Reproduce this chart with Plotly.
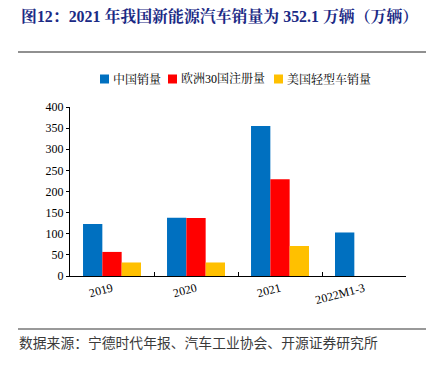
import plotly.graph_objects as go

categories = ["2019", "2020", "2021", "2022M1-3"]
china_sales = [123, 138, 355, 103]
europe_reg = [57, 137, 229, None]
us_light = [32, 32, 71, None]
series_names = ["中国销量", "欧洲30国注册量", "美国轻型车销量"]
series_colors = ["#0070C0", "#FF0000", "#FFC000"]
y_ticks = [0, 50, 100, 150, 200, 250, 300, 350, 400]

title_text = "图12：2021 年我国新能源汽车销量为 352.1 万辆（万辆）"
source_text = "数据来源：宁德时代年报、汽车工业协会、开源证券研究所"

FONT = "Liberation Serif, Noto Serif CJK SC, Noto Sans CJK SC, serif"
CJK = "Noto Sans CJK SC, sans-serif"

# page body has an 8px margin; figure coordinates = page coordinates - 8
OFF = 8
W, H = 434 - OFF, 372 - OFF
L, T = 70 - OFF, 107 - OFF
R = W - (406 - OFF)
B = H - (276 - OFF)
PW, PH = W - L - R, H - T - B


def px(x):
    return (x - OFF - L) / PW


def py(y):
    return (H - B - (y - OFF)) / PH


fig = go.Figure()
for name, vals, color in zip(series_names, [china_sales, europe_reg, us_light], series_colors):
    fig.add_trace(go.Bar(x=categories, y=vals, name=name, marker_color=color,
                         marker_line_width=0, showlegend=False))

fig.update_layout(
    width=W, height=H,
    margin=dict(l=L, r=R, t=T, b=B),
    paper_bgcolor="white", plot_bgcolor="white",
    barmode="group", bargap=0.31, bargroupgap=0,
    font=dict(family=FONT, size=12, color="#000000"),
    showlegend=False,
    xaxis=dict(showline=True, linecolor="#000000", linewidth=1,
               ticks="inside", tickson="boundaries", ticklen=4, tickcolor="#000000",
               tickangle=-15, tickfont=dict(size=12, family=FONT), showgrid=False),
    yaxis=dict(range=[0, 400], tickvals=y_ticks, showline=True, linecolor="#000000",
               linewidth=1, ticks="outside", ticklen=3, tickcolor="#000000",
               showgrid=False, zeroline=False, tickfont=dict(size=12, family=FONT)),
)

# legend (manual)
legend_x = [100, 168, 274]
for name, color, lx in zip(series_names, series_colors, legend_x):
    fig.add_shape(type="rect", xref="paper", yref="paper",
                  x0=px(lx), x1=px(lx + 9), y0=py(83.5), y1=py(74.5),
                  line=dict(width=0), fillcolor=color)
    fig.add_annotation(text=name, xref="paper", yref="paper", x=px(lx + 11), xanchor="left",
                       y=py(79), yanchor="middle", showarrow=False,
                       font=dict(size=12, family=FONT, color="#000000"))

fig.add_annotation(text="<b>" + title_text + "</b>", xref="paper", yref="paper",
                   x=px(19), xanchor="left", y=py(16), yanchor="middle", showarrow=False,
                   font=dict(size=15.9, color="#1B2A85", family=FONT))
fig.add_annotation(text=source_text, xref="paper", yref="paper",
                   x=px(17), xanchor="left", y=py(342), yanchor="middle", showarrow=False,
                   font=dict(size=13.8, color="#3A3A3A", family=CJK))
fig.add_shape(type="line", xref="paper", yref="paper", x0=px(18), x1=px(430),
              y0=py(52), y1=py(52), line=dict(color="#222222", width=1.2))
fig.add_shape(type="line", xref="paper", yref="paper", x0=px(18), x1=px(430),
              y0=py(329), y1=py(329), line=dict(color="#999999", width=2))

fig.write_html("out.html")
